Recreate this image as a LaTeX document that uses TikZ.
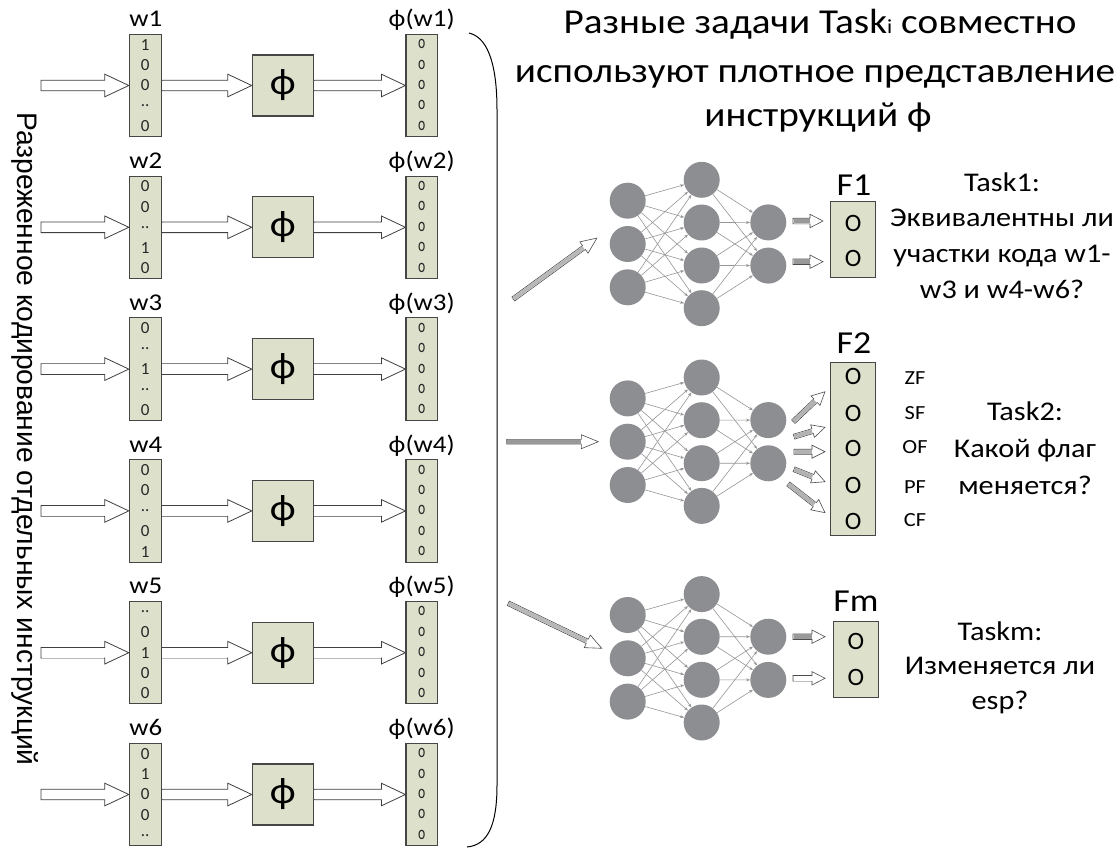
\documentclass[tikz,border=0pt]{standalone}
\usepackage{fontspec}
\setmainfont{Carlito}[FakeStretch=1.12]
\newfontfamily\arialf{Liberation Sans}
\newfontfamily\narrowf{Carlito}
\usetikzlibrary{arrows.meta,calc}
\definecolor{boxfill}{RGB}{221,224,203}
\definecolor{boxline}{RGB}{70,70,70}
\definecolor{neuron}{RGB}{141,142,145}
\definecolor{edgec}{RGB}{150,150,150}
\newcommand\fs[1]{\fontsize{#1}{#1}\selectfont}
\newcommand\oglyph{\scalebox{0.72}[1]{o}}
% block arrow: style, start, end, shaft half, head half, head length, shaft fill
\newcommand\barrow[7]{%
  \path (#2); \pgfgetlastxy\bAx\bAy
  \path (#3); \pgfgetlastxy\bBx\bBy
  \pgfmathsetmacro\bAng{atan2(\bBy-\bAy,\bBx-\bAx)}%
  \pgfmathsetmacro\bLen{veclen(\bBx-\bAx,\bBy-\bAy)}%
  \pgfmathsetmacro\bBase{\bLen-#6}%
  \draw[#1, shift={(#2)}, rotate=\bAng] (0pt,#4pt) -- (\bBase pt,#4pt) -- (\bBase pt,#5pt) -- (\bLen pt,0pt) -- (\bBase pt,-#5pt) -- (\bBase pt,-#4pt) -- (0pt,-#4pt) -- cycle;
  \fill[#7, shift={(#2)}, rotate=\bAng] (0.5pt,#4pt-0.5pt) rectangle (\bBase pt-0.5pt,-#4pt+0.5pt);
}
\begin{document}
\begin{tikzpicture}[x=1pt,y=-1pt,
  wbox/.style={draw=boxline, fill=boxfill, line width=1.1pt, minimum width=31.7pt, minimum height=102.4pt, inner sep=0pt},
  phibox/.style={draw=boxline, fill=boxfill, line width=1.1pt, minimum width=61pt, minimum height=61pt, inner sep=0pt, font=\fs{37}},
  dig/.style={inner sep=0pt, font=\narrowf\fs{17}, text=black!85},
  lbl/.style={inner sep=0pt, anchor=base, font=\fs{24}},
  blk/.style={draw=black!75, fill=white, line width=0.8pt, line join=miter},
  sblk/.style={draw=black!70, fill=white, line width=0.6pt, line join=miter},
  neuronst/.style={circle, fill=neuron, minimum size=36pt, inner sep=0pt},
  edge/.style={draw=edgec, line width=0.6pt, -{Stealth[length=4pt,width=3pt]}},
  fbox/.style={draw=boxline, fill=boxfill, line width=1.1pt, minimum width=45pt, inner sep=0pt},
  fo/.style={inner sep=0pt, font=\narrowf\fs{25}},
  flab/.style={inner sep=0pt, anchor=base, font=\fs{32}},
  task/.style={inner sep=0pt, anchor=base, font=\fs{27}},
  flag/.style={inner sep=0pt, font=\fs{20}},
  ttl/.style={inner sep=0pt, anchor=base, font=\fs{35}}]
\fill[white] (0,0) rectangle (1119,848);
\useasboundingbox (0,0) rectangle (1119,848);

% vertical caption
\node[rotate=-90, inner sep=0pt, font=\arialf\fs{28.2}] (vt) at (25,439) {Разреженное кодирование отдельных инструкций};

% rows
\foreach \i/\a/\b/\c/\d/\e in {1/1/0/0/../0, 2/0/0/../1/0, 3/0/../1/../0, 4/0/0/../0/1, 5/../0/1/0/0, 6/0/1/0/0/..}{
  \pgfmathsetmacro\yc{85.5+141.8*(\i-1)}
  \node[wbox] (w\i) at (145.2,\yc) {};
  \node[dig] (w\i-1) at (145.2,{\yc-40.8}) {\a};
  \node[dig] (w\i-2) at (145.2,{\yc-20.4}) {\b};
  \node[dig] (w\i-3) at (145.2,\yc) {\c};
  \node[dig] (w\i-4) at (145.2,{\yc+20.4}) {\d};
  \node[dig] (w\i-5) at (145.2,{\yc+40.8}) {\e};
  \node[phibox] (p\i) at (282.8,\yc) {ф};
  \node[wbox] (o\i) at (421.8,\yc) {};
  \foreach \k/\dy in {1/-40.8,2/-20.4,3/0,4/20.4,5/40.8}
    {\node[dig, font=\narrowf\fs{19}] (o\i-\k) at (421.8,{\yc+(\dy)-0.5}) {\oglyph};}
  \node[lbl] (lw\i) at (145.7,{\yc-58.8}) {w\i};
  \node[lbl] (lo\i) at (421.7,{\yc-58.8}) {ф(w\i)};
  \coordinate (s\i) at (41,\yc);
  \barrow{blk}{s\i}{w\i.west}{5.3}{11.3}{24}{white}
  \barrow{blk}{w\i.east}{p\i.west}{5.3}{11.3}{24}{white}
  \barrow{blk}{p\i.east}{o\i.west}{5.3}{11.3}{24}{white}
}

% brace
\draw[line width=1pt] (469,33) .. controls (490,38) and (497,70) .. (497,110) -- (497,785) .. controls (497,825) and (488,845) .. (467,847);

% title
\node[ttl] (t1) at (820,33.5) {Разные задачи Task{\fs{20}i} совместно};
\node[ttl] (t2) at (815,83) {используют плотное представление};
\node[ttl] (t3) at (818,127) {инструкций ф};

% networks
\foreach \n/\yc in {A/244, B/441.7, C/658.3}{
  \foreach \k/\dy in {1/-43.3,2/0,3/43.3}
    {\node[neuronst] (\n a\k) at (627.7,{\yc+(\dy)}) {};}
  \foreach \k/\dy in {1/-64.2,2/-21.5,3/21.5,4/64.2}
    {\node[neuronst] (\n b\k) at (701.7,{\yc+(\dy)}) {};}
  \foreach \k/\dy in {1/-21.6,2/21.6}
    {\node[neuronst] (\n c\k) at (768.3,{\yc+(\dy)}) {};}
  \foreach \p in {1,2,3} {\foreach \q in {1,2,3,4} {\draw[edge] (\n a\p) -- (\n b\q);}}
  \foreach \p in {1,2,3,4} {\foreach \q in {1,2} {\draw[edge] (\n b\p) -- (\n c\q);}}
}

% inputs to networks
\coordinate (ia1) at (513.3,299);   \coordinate (ie1) at (597,238);
\coordinate (ia2) at (506.7,441.7); \coordinate (ie2) at (598.3,441.7);
\coordinate (ia3) at (508.3,603.3); \coordinate (ie3) at (601.7,648.3);
\barrow{sblk}{ia1}{ie1}{2.4}{7}{16}{black!28}
\barrow{sblk}{ia2}{ie2}{2.4}{7}{17}{black!40}
\barrow{sblk}{ia3}{ie3}{2.4}{7}{16}{black!28}

% F1
\node[fbox, minimum height=76pt] (F1) at (853.2,239.7) {};
\node[fo] (F1-1) at (853.2,223.3) {O};
\node[fo] (F1-2) at (853.2,258.3) {O};
\node[flab] (F1l) at (854,195) {F1};
\coordinate (a1s) at (793,221); \coordinate (a1e) at (823,221);
\coordinate (a2s) at (793,261.7); \coordinate (a2e) at (823,261.7);
\barrow{sblk}{a1s}{a1e}{2.8}{6.7}{13}{black!40}
\barrow{sblk}{a2s}{a2e}{2.8}{6.7}{13}{black!40}

% F2
\node[fbox, minimum height=173pt] (F2) at (853.2,449.2) {};
\foreach \k/\y in {1/376.7,2/413.3,3/448.3,4/485,5/521.7}
  {\node[fo] (F2-\k) at (853.2,\y) {O};}
\node[flab] (F2l) at (854,353) {F2};
\foreach \k/\y/\t in {1/378/ZF,2/413/SF,3/447/OF,4/487/PF,5/520/CF}
  {\node[flag] (fl\k) at (915,\y) {\t};}
\coordinate (b1s) at (793.3,421.7); \coordinate (b1e) at (825,391.7);
\coordinate (b2s) at (794,436.7);   \coordinate (b2e) at (825,427.3);
\coordinate (b3s) at (794,451.7);   \coordinate (b3e) at (825,451.7);
\coordinate (b4s) at (794,469.3);   \coordinate (b4e) at (825,481.7);
\coordinate (b5s) at (788.3,484);   \coordinate (b5e) at (825,512.7);
\foreach \k in {1,...,5}
  {\barrow{sblk}{b\k s}{b\k e}{2.5}{6.5}{13}{black!30}}

% Fm
\node[fbox, minimum height=76pt] (Fm) at (856,659.7) {};
\node[fo] (Fm-1) at (856,641) {O};
\node[fo] (Fm-2) at (856,677) {O};
\node[flab] (Fml) at (856,611) {Fm};
\coordinate (c1s) at (793,636.7); \coordinate (c1e) at (825,636.7);
\coordinate (c2s) at (793,678.3); \coordinate (c2e) at (825,678.3);
\barrow{sblk}{c1s}{c1e}{2.8}{6.7}{13}{black!40}
\barrow{sblk}{c2s}{c2e}{2.8}{6.7}{13}{white}

% task texts
\node[task] (k11) at (1002,191) {Task1:};
\node[task] (k12) at (1002,226) {Эквивалентны ли};
\node[task] (k13) at (1002,262) {участки кода w1-};
\node[task] (k14) at (1002,298) {w3 и w4-w6?};
\node[task] (k21) at (1025,420) {Task2:};
\node[task] (k22) at (1025,457) {Какой флаг};
\node[task] (k23) at (1025,494) {меняется?};
\node[task] (k31) at (1000,640) {Taskm:};
\node[task] (k32) at (1000,674) {Изменяется ли};
\node[task] (k33) at (1000,709) {esp?};
\end{tikzpicture}
\end{document}
